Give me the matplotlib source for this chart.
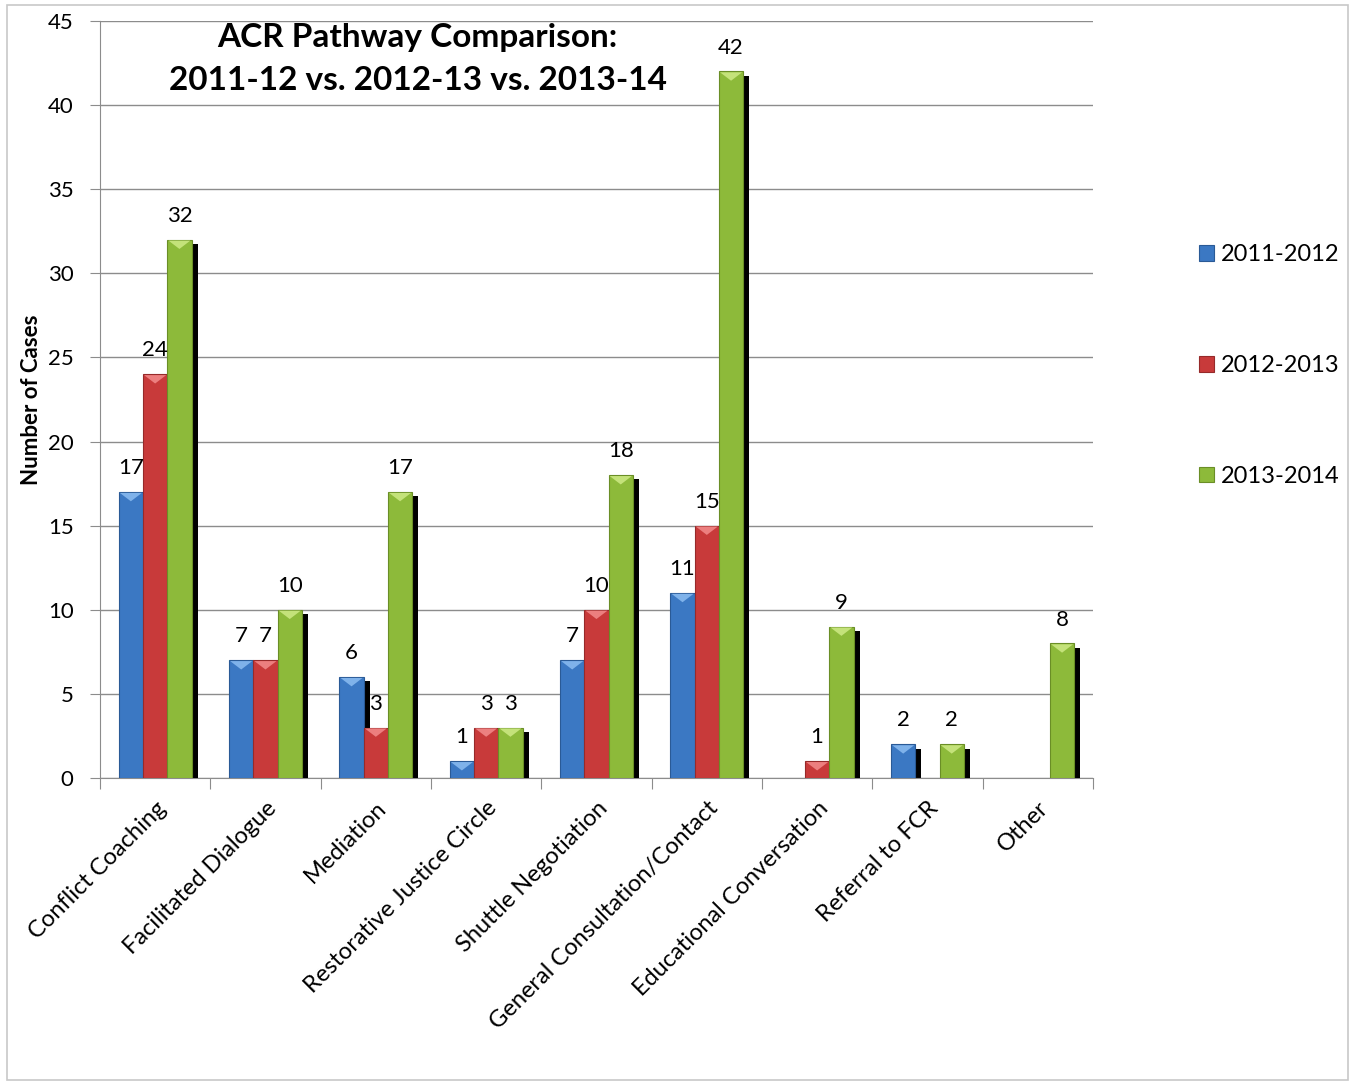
import matplotlib
matplotlib.use("Agg")
import matplotlib.pyplot as plt
import numpy as np
from matplotlib.patches import Rectangle

plt.rcParams['font.family'] = ['Lato', 'DejaVu Sans']

categories = ["Conflict Coaching", "Facilitated Dialogue", "Mediation",
              "Restorative Justice Circle", "Shuttle Negotiation",
              "General Consultation/Contact", "Educational Conversation",
              "Referral to FCR", "Other"]
series_names = ["2011-2012", "2012-2013", "2013-2014"]
vals_2011 = [17, 7, 6, 1, 7, 11, None, 2, None]
vals_2012 = [24, 7, 3, 3, 10, 15, 1, None, None]
vals_2013 = [32, 10, 17, 3, 18, 42, 9, 2, 8]
colors = ["#3b78c3", "#c83a3a", "#8dba3a"]
top_colors = ["#7fb2ea", "#ec7f7f", "#c4e27a"]
edge_colors = ["#2a5a96", "#962a2a", "#6a8e26"]

fig = plt.figure(figsize=(13.51, 10.83), dpi=100)
fig.patches.append(Rectangle((0.005, 0.003), 0.993, 0.992, transform=fig.transFigure,
                             fill=False, edgecolor="#c8c8c8", linewidth=1.2))
ax = fig.add_axes([0.074, 0.2816, 0.735, 0.699])

x = np.arange(len(categories))
width = 0.22
all_vals = [vals_2011, vals_2012, vals_2013]
offsets = [-width, 0, width]

for i, (vals, off) in enumerate(zip(all_vals, offsets)):
    xs = [xi + off for xi, v in zip(x, vals) if v is not None]
    hs = [v for v in vals if v is not None]
    # shadow
    ax.bar([xx + 0.055 for xx in xs], [h - 0.25 for h in hs], width, color="black",
           zorder=2 + i * 3)
    ax.bar(xs, hs, width, color=colors[i], edgecolor=edge_colors[i],
           linewidth=0.8, zorder=3 + i * 3, label=series_names[i])
    for xx, h in zip(xs, hs):
        # bevel on top of the bar
        ax.fill([xx - width / 2 + 0.01, xx + width / 2 - 0.01, xx],
                [h - 0.05, h - 0.05, h - 0.55], color=top_colors[i],
                zorder=4 + i * 3, linewidth=0)
        ax.annotate(str(h), (xx, h), xytext=(0, 10), textcoords="offset points",
                    ha="center", va="bottom", fontsize=16, zorder=12)

ax.set_ylim(0, 45)
ax.set_xlim(-0.5, len(categories) - 0.5)
ax.set_yticks(range(0, 46, 5))
ax.tick_params(axis="y", labelsize=16, length=7, color="#8c8c8c", pad=12)
ax.yaxis.grid(True, color="#8c8c8c", linewidth=1)
ax.set_axisbelow(True)

ax.set_xticks(np.arange(-0.5, len(categories), 1.0), minor=False)
ax.set_xticklabels([])
ax.tick_params(axis="x", which="major", length=8, color="#8c8c8c", direction="out")
ax.set_xticks(x, minor=True)
ax.set_xticklabels(categories, minor=True, rotation=45, ha="right",
                   rotation_mode="anchor", fontsize=17)
ax.tick_params(axis="x", which="minor", length=0, pad=14)

for s in ["top", "right"]:
    ax.spines[s].set_visible(False)
ax.spines["left"].set_color("#8c8c8c")
ax.spines["bottom"].set_color("#8c8c8c")

ax.set_ylabel("Number of Cases", fontsize=16, fontweight="bold", labelpad=4)

ax.text(0.32, 0.998, "ACR Pathway Comparison:\n2011-12 vs. 2012-13 vs. 2013-14",
        transform=ax.transAxes, ha="center", va="top", fontsize=24,
        fontweight="bold", linespacing=1.6)

leg = ax.legend(loc="center left", bbox_to_anchor=(1.085, 0.545), frameon=False,
                fontsize=17, handlelength=0.65, handleheight=0.65,
                labelspacing=3.8, handletextpad=0.3)

fig.savefig("out.png", dpi=100)
